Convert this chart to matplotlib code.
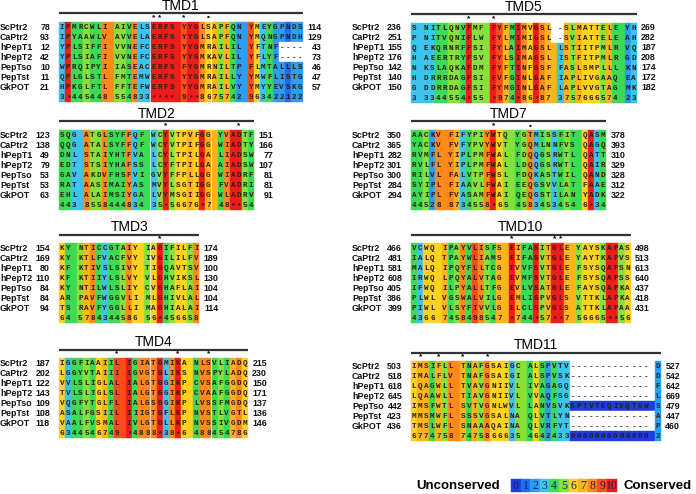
import matplotlib.pyplot as plt
from matplotlib.patches import Rectangle

plt.rcParams['font.family'] = ['Liberation Sans', 'DejaVu Sans']

names = ['ScPtr2', 'CaPtr2', 'hPepT1', 'hPepT2', 'PepTso', 'PepTst', 'GkPOT']

# ---- TMD1 ----
tmd1_seqs = ["IPMRCWLI AIVELSERFS YYGLSAPFQN YMEYGPNDS",
             "IPYAAWLV AVVELAERFS YYGLSAPFQN YMQNGPNDH",
             "YPLSIFFI VVNEFCERFS YYGMRAILIL YFTNF----",
             "YPLSIAFI VVNEFCERFS YYGMKAVLIL YFLYF----",
             "WPRQIPYI IASEACERFS FYGMRNILTP FLMTALLLS",
             "QPLGLSTL FMTEMWERFS YYGMRAILLY YMWFLISTG",
             "HPKGLFTL FFTEFWERFS YYGMRAILVY YMYYEVSKG"]
tmd1_score = "3*445448 554833**** 9**8675742 963422122"
tmd1_start = [78, 93, 12, 42, 10, 11, 21]
tmd1_end = [114, 129, 43, 73, 46, 47, 57]
tmd1_marks = [(15, '*'), (16, '*'), (20, '*'), (24, '•')]

# ---- TMD2 ----
tmd2_seqs = ["SQG ATGLSYFFQF WCYVTPVFGG YVADTF",
             "QQG ATALSYFFQF WCYVTPIFGG WIADTY",
             "DNL STAIYHTFVA LCYLTPILGA LIADSW",
             "EDT STSIYHAFSS LCYFTPILGA AIADSW",
             "GAV AKDVFHSFVI GVYFFPLLGG WIADRF",
             "RAT AASIMAIYAS MVYLSGTIGG FVADRI",
             "EHL ALAIMSIYGA LVYMSGIIGG WLADRV"]
tmd2_score = "443 8558444834 35*56676*7 48**54"
tmd2_start = [123, 138, 49, 79, 53, 53, 63]
tmd2_end = [151, 166, 77, 107, 81, 81, 91]
tmd2_marks = [(17, '*'), (29, '*')]

# ---- TMD3 ----
tmd3_seqs = ["KY NTICCGTAIY IAGIFILFI",
             "KY KTLFVACFVY IVGILILFV",
             "KF KTIVSLSIVY TIGQAVTSV",
             "KF KTIIYLSLVY VLGHVIKSL",
             "KY NTILWLSLIY CVGHAFLAI",
             "AR PAVFWGGVLI MLGHIVLAL",
             "TS RAVFYGGLLI MAGHIALAI"]
tmd3_score = "64 5784344586 56*456658"
tmd3_start = [154, 169, 80, 110, 84, 84, 94]
tmd3_end = [174, 189, 100, 130, 104, 104, 114]
tmd3_marks = [(16, '*')]

# ---- TMD4 ----
tmd4_seqs = ["IGGFIAAIIL IGIATGMIKA NLSVLIADQ",
             "LGGYVTAIII IGVGTGLIKS NVSPYLADQ",
             "VVLSLIGLAL IALGTGGIKP CVSAFGGDQ",
             "TVLSLIGLSL IALGTGGIKP CVAAFGGDQ",
             "VQGFYTGLFL IALGSGGIKP LVSSFMGDQ",
             "ASALFGSIIL IIIGTGFLKP NVSTLVGTL",
             "VAALFVSMAL IVLGTGLLKP NVSSIVGDM"]
tmd4_score = "6344546749 *4888*38*6 488454786"
tmd4_start = [187, 202, 122, 143, 109, 108, 118]
tmd4_end = [215, 230, 150, 171, 137, 136, 146]
tmd4_marks = [(9, '*'), (19, '*'), (24, '*')]

# ---- TMD5 ----
tmd5_seqs = ["S NITLQNVFMF FYFMIMVGSL -SLMATTELE YH",
             "P NITVQNIFLW FYLMIMIGSL -SVIATTELE AH",
             "Q EKQRNRFFSI FYLAIMAGSL LSTIITPMLR VQ",
             "H AEERTRYFSV FYLSIMAGSL ISTFITPMLR GD",
             "N KSLAQKAFDM FYFTINFGSF FASLSMPLLL KN",
             "H DRRRDAGFSI FVFGINLGAF IAPLIVGAAQ EA",
             "G DDRRDAGFSI FYMGINLGAF LAPLVVGTAG MK"]
tmd5_score = "3 3344554*55 *974*86*87 3757666574 23"
tmd5_start = [236, 251, 155, 176, 142, 140, 150]
tmd5_end = [269, 282, 187, 208, 174, 172, 182]
tmd5_marks = [(9, '*'), (13, '*')]

# ---- TMD7 ----
tmd7_seqs = ["AACKV FIFYPIYWTQ YGTMISSFIT QASM",
             "YACKV FVFYPVYWVT YGQMLNNFVS QAGQ",
             "RVMFL YIPLPMFWAL FDQQGSRWTL QATT",
             "RVLFL YIPLPMFWAL LDQQGSRWTL QAIR",
             "RILVL FALVTPFWSL FDQKASTWIL QAND",
             "SYIPL FIAAVLFWAI EEQGSVVLAT FAAE",
             "AYIPL FVASAMFWAI QEQGSTILAN YADK"]
tmd7_score = "44528 8734558*65 4583453454 6*34"
tmd7_start = [350, 365, 282, 301, 300, 284, 294]
tmd7_end = [378, 393, 310, 329, 328, 312, 322]
tmd7_marks = [(13, '*'), (19, '•')]

# ---- TMD10 ----
tmd10_seqs = ["VCWQ IPAYVLISFS EIFASITGLE YAYSKAPAS",
              "IALQ TPAYWLIAMS EIFASVTGLE YAYTKAPVS",
              "MALQ IPQYFLLTCG EVVFSVTGLE FSYSQAPSN",
              "IRWQ LPQYALVTAG EVMFSVTGLE FSYSQAPSS",
              "IFWQ ILPYALLTFG EVLVSATGLE FAYSQAPKA",
              "PLWL VGSWALVILG EMLISPVGLS VTTKLAPKA",
              "PIWL VLSYFIVVLG ELCLSPVGLS ATTKLAPAA"]
tmd10_score = "4366 7458498547 *744*57**7 56665**56"
tmd10_start = [466, 481, 581, 608, 405, 386, 399]
tmd10_end = [498, 513, 613, 640, 437, 418, 431]
tmd10_marks = [(16, '*'), (23, '*'), (24, '*')]

# ---- TMD11 ----
tmd11_seqs = ["IMSIFLL TNAFGSAIGC ALSPVTV------------- D",
              "IMALFLV TNAFGSAIGI ALSPVSK------------- D",
              "LQAGWLL TVAVGNIIVL IVAGAGQ------------- F",
              "LQAAWLL TIAVGNIIVL VVAQFSG------------- L",
              "IMSFWTL SVTVGNLWVL LANVSVKSPTVTEQIVQTGW S",
              "MMSMWFL SSSVGSALNA QLVTLYN------------- A",
              "TMSLWFL SNAAAQAINA QLVRFYT------------- P"]
tmd11_score = "6774758 7475866635 46424330000000000000 2"
tmd11_start = [503, 518, 618, 645, 442, 423, 436]
tmd11_end = [527, 542, 642, 669, 479, 447, 460]
tmd11_marks = [(1, '*'), (4, '*'), (8, '*'), (12, '*')]

score_colors = ['#1f3cdc', '#1f6cf5', '#2a9ff2', '#3cc4ee', '#3ddb55', '#86e23a',
                '#ffd21f', '#ffb41a', '#ff8a1a', '#ff4d1a', '#ee1c1c']

PITCH = 6.1
ROW_H = 10.0
SEQ_FONT = dict(family=['Liberation Mono', 'DejaVu Sans Mono'], weight='bold',
                fontsize=5.5, color='#2b1d10', ha='center', va='center')
LABEL_FONT = dict(va='center', fontsize=6.4, weight='bold', color='#111111')


def col_color(score, c):
    ch = score[c]
    if ch == ' ':
        return None
    return score_colors[10 if ch == '*' else int(ch)]


def cell_color(row, score, c):
    ch = row[c]
    if ch == '-':
        return 'white'
    if ch == ' ':
        left = row[c - 1] if c > 0 else ' '
        right = row[c + 1] if c + 1 < len(row) else ' '
        if left == '-' or right == '-':
            return 'white'
        return col_color(score, c - 1)
    return col_color(score, c)


def draw_panel(ax, x0, y0, title, seqs, score, starts, ends, marks):
    ncol = len(score)
    rows = seqs + [score]
    for r, row in enumerate(rows):
        y = y0 + r * ROW_H
        for c, ch in enumerate(row):
            if r < len(seqs):
                col = cell_color(row, score, c)
            else:
                col = col_color(score, c) if ch != ' ' else col_color(score, c - 1)
            x = x0 + c * PITCH
            ax.add_patch(Rectangle((x, y - ROW_H / 2), PITCH, ROW_H,
                                   facecolor=col, edgecolor=col, lw=0.3))
            if ch != ' ':
                ax.text(x + PITCH / 2, y + 0.3, ch, **SEQ_FONT)
    x_end = x0 + ncol * PITCH
    for r, name in enumerate(names):
        y = y0 + r * ROW_H
        ax.text(x0 - 59, y, name, ha='left', **LABEL_FONT)
        ax.text(x0 - 9, y, str(starts[r]), ha='right', **LABEL_FONT)
        ax.text(x_end + 19, y, str(ends[r]), ha='right', **LABEL_FONT)
    ax.plot([x0, x_end], [y0 - 13.5] * 2, color='#333333', lw=1.6,
            solid_capstyle='butt')
    ax.text((x0 + x_end) / 2, y0 - 21, title, ha='center', va='center',
            fontsize=10)
    for c, m in marks:
        ax.text(x0 + (c + 0.5) * PITCH, y0 - 9, m, ha='center', va='center',
                fontsize=6, weight='bold')


fig = plt.figure(figsize=(6.96, 4.94), dpi=100)
ax = fig.add_axes([0, 0, 1, 1])
ax.set_xlim(0, 696)
ax.set_ylim(494, 0)
ax.axis('off')

draw_panel(ax, 59, 27, 'TMD1', tmd1_seqs, tmd1_score, tmd1_start, tmd1_end, tmd1_marks)
draw_panel(ax, 59, 135, 'TMD2', tmd2_seqs, tmd2_score, tmd2_start, tmd2_end, tmd2_marks)
draw_panel(ax, 59, 248, 'TMD3', tmd3_seqs, tmd3_score, tmd3_start, tmd3_end, tmd3_marks)
draw_panel(ax, 59, 363, 'TMD4', tmd4_seqs, tmd4_score, tmd4_start, tmd4_end, tmd4_marks)
draw_panel(ax, 411, 28, 'TMD5', tmd5_seqs, tmd5_score, tmd5_start, tmd5_end, tmd5_marks)
draw_panel(ax, 411, 135, 'TMD7', tmd7_seqs, tmd7_score, tmd7_start, tmd7_end, tmd7_marks)
draw_panel(ax, 411, 248, 'TMD10', tmd10_seqs, tmd10_score, tmd10_start, tmd10_end, tmd10_marks)
draw_panel(ax, 411, 366, 'TMD11', tmd11_seqs, tmd11_score, tmd11_start, tmd11_end, tmd11_marks)

# legend
lx, lw_box = 511, 9.6
for i, col in enumerate(score_colors):
    ax.add_patch(Rectangle((lx + i * lw_box, 479), lw_box, 13, facecolor=col,
                           edgecolor=col, lw=0.3))
    ax.text(lx + (i + 0.5) * lw_box, 485.5, str(i), ha='center', va='center',
            fontsize=8.5, family=['Liberation Serif', 'DejaVu Serif'], color='#15206a')
ax.text(500, 486, 'Unconserved', ha='right', va='center', fontsize=9.5, weight='bold')
ax.text(624, 486, 'Conserved', ha='left', va='center', fontsize=9.5, weight='bold')

fig.savefig('out.png', dpi=100)
